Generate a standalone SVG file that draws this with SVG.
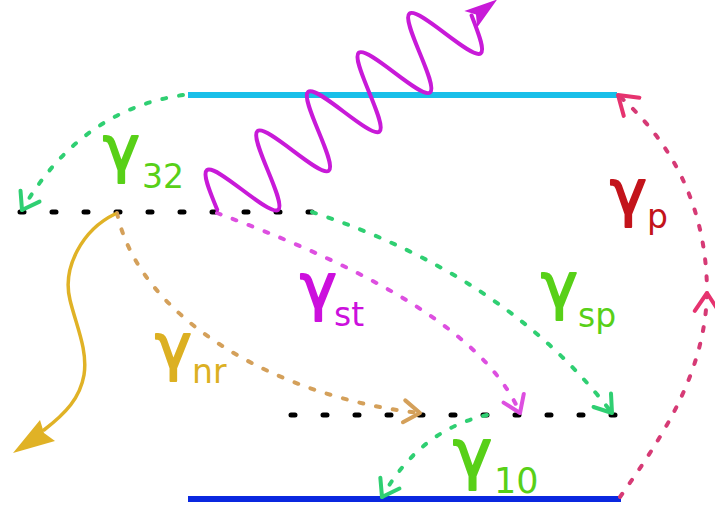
<svg xmlns="http://www.w3.org/2000/svg" width="715" height="512" viewBox="0 0 715 512">
<defs>
<style>
.bar{fill:none;stroke-width:6;stroke-linecap:butt}
.dots{fill:none;stroke:#000;stroke-width:5;stroke-linecap:round;stroke-dasharray:4 28}
.dash{fill:none;stroke-width:4;stroke-linecap:round;stroke-dasharray:4 13}
.lab{font-family:"DejaVu Sans",Verdana,sans-serif}
.big{font-size:62px;stroke-width:2;stroke-linejoin:round}
.sub{font-size:33px}
.gr{fill:#58d018;stroke:#58d018}
.sub.gr{stroke:none}
</style>
<marker id="ahG" markerUnits="userSpaceOnUse" markerWidth="40" markerHeight="40" viewBox="-20 -20 40 40" refX="0" refY="0" orient="auto">
<path d="M-16,-11 L0,0 L-16,11" fill="none" stroke="#2fcf72" stroke-width="4" stroke-linecap="round" stroke-linejoin="round"/>
</marker>
<marker id="ahM" markerUnits="userSpaceOnUse" markerWidth="40" markerHeight="40" viewBox="-20 -20 40 40" refX="0" refY="0" orient="auto">
<path d="M-16,-11 L0,0 L-16,11" fill="none" stroke="#dd4fe0" stroke-width="4" stroke-linecap="round" stroke-linejoin="round"/>
</marker>
<marker id="ahT" markerUnits="userSpaceOnUse" markerWidth="40" markerHeight="40" viewBox="-20 -20 40 40" refX="0" refY="0" orient="auto">
<path d="M-16,-11 L0,0 L-16,11" fill="none" stroke="#d4a05a" stroke-width="4" stroke-linecap="round" stroke-linejoin="round"/>
</marker>
<marker id="ahP" markerUnits="userSpaceOnUse" markerWidth="40" markerHeight="40" viewBox="-20 -20 40 40" refX="0" refY="0" orient="auto">
<path d="M-18,-12 L0,0 L-18,12" fill="none" stroke="#e6336f" stroke-width="4" stroke-linecap="round" stroke-linejoin="round"/>
</marker>
</defs>
<rect width="715" height="512" fill="#fff"/>

<g id="level3"><line class="bar" x1="188" y1="95" x2="617" y2="95" stroke="#19bfe9"/></g>
<g id="level2"><line class="dots" x1="20" y1="212" x2="312" y2="212"/></g>
<g id="level1"><line class="dots" x1="291" y1="415" x2="615" y2="415"/></g>
<g id="level0"><line class="bar" x1="188" y1="499" x2="621" y2="499" stroke="#0a28e0"/></g>

<g id="connectors">
<path id="g32" class="dash" stroke="#2fcf72" d="M183,95 Q80,110 22,210" marker-end="url(#ahG)"/>
<path id="gsp" class="dash" stroke="#2fcf72" d="M312,212 Q507,276 612,413" marker-end="url(#ahG)"/>
<path id="gst" class="dash" stroke="#dd4fe0" d="M217,213 C330,255 480,320 520,413" marker-end="url(#ahM)"/>
<path id="gnr" class="dash" stroke="#d4a05a" d="M117,213 C140,320 280,398 420,413" marker-end="url(#ahT)"/>
<path id="g10" class="dash" stroke="#2fcf72" d="M487,415 Q420,430 382,497" marker-end="url(#ahG)"/>
<path id="gp" class="dash" stroke="#d63a75" stroke-dasharray="3 14" d="M620,497 C660,440 705,375 707,293 C707,205 670,140 618,95" marker-mid="url(#ahP)" marker-end="url(#ahP)"/>
<g id="heat">
<path d="M115,214 C82,230 62,268 70,300 C76,325 88,350 84,375 C80,398 66,413 44,430" fill="none" stroke="#e0b226" stroke-width="3.5" stroke-linecap="round"/>
<path d="M13,453 L40,420 L44,433 L55,441 Z" fill="#e0b226"/>
</g>
<g id="photon" transform="translate(242.5,190) rotate(-37.7)">
<path d="M-32,0 C-27,-18.4 -22,-37.5 -16,-37.5 C-4.4,-37.5 4.4,37.5 16,37.5 C27.6,37.5 36.4,-37.5 48,-37.5 C59.6,-37.5 68.4,37.5 80,37.5 C91.6,37.5 100.4,-37.5 112,-37.5 C123.6,-37.5 132.4,37.5 144,37.5 C155.6,37.5 164.4,-37.5 176,-37.5 C187.6,-37.5 196.4,37.5 208,37.5 C219.6,37.5 228.4,-37.5 240,-37.5 C251.6,-37.5 260.4,37.5 272,37.5 C278,37.5 283,18.4 288,2" fill="none" stroke="#c81ad8" stroke-width="4" stroke-linecap="round"/>
<path d="M318,5 L285,-6 L292,4 L285,15 Z" fill="#c81ad8"/>
</g>
</g>

<g id="labels" class="lab">
<g id="lab32"><text class="big gr" x="103" y="170">γ</text><text class="sub gr" x="142" y="188">32</text></g>
<g id="labp" fill="#c3141b"><text class="big" stroke="#c3141b" x="610" y="214">γ</text><text class="sub" x="647" y="228">p</text></g>
<g id="labst" fill="#cc10dd"><text class="big" stroke="#cc10dd" x="300" y="308">γ</text><text class="sub" x="334" y="326">st</text></g>
<g id="labsp"><text class="big gr" x="541" y="307">γ</text><text class="sub gr" x="578" y="327">sp</text></g>
<g id="labnr" fill="#dcb022"><text class="big" stroke="#dcb022" x="155" y="368">γ</text><text class="sub" x="192" y="383">nr</text></g>
<g id="lab10"><text class="big gr" x="453" y="476" style="font-size:66px">γ</text><text class="sub gr" x="494" y="493" style="font-size:35px">10</text></g>
</g>
</svg>
